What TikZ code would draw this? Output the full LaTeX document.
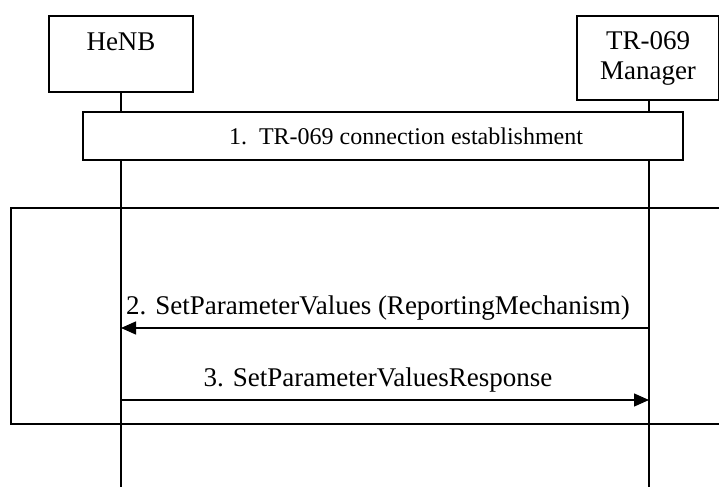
\documentclass[tikz,border=0pt]{standalone}
\usepackage{fontspec}
\setmainfont{Liberation Serif}
\usetikzlibrary{arrows.meta,positioning}

\begin{document}
\begin{tikzpicture}[
  x=0.5pt, y=-0.5pt,
  font=\fontsize{13.5}{15}\selectfont,
  actor/.style={draw,line width=0.75pt,align=center,minimum width=72pt,inner sep=0pt},
  stepbox/.style={draw,line width=0.7pt,fill=white,minimum width=300pt,minimum height=24pt},
  lifeline/.style={line width=0.7pt},
  msg/.style={-{Triangle[length=7.5pt,width=6.5pt]},line width=0.7pt},
  frame/.style={draw,line width=0.7pt},
]
\clip (0,0) rectangle (719,487);
\useasboundingbox (0,0) rectangle (719,487);

%% ---- Actors ----------------------------------------------------------------
\node[actor, minimum height=38pt] (henb) at (121,54) {HeNB\\[-3pt]\mbox{}};
\node[actor, minimum width=71pt, minimum height=42pt] (mgr) at (648,58) {TR-069\\Manager};

%% ---- Lifelines -------------------------------------------------------------
\coordinate (henbend) at (121,487);
\coordinate (mgrend)  at (649,487);
\draw[lifeline] (henb.south) -- (henbend);
\draw[lifeline] (mgr.south -| mgrend) -- (mgrend);

%% ---- Step 1 ----------------------------------------------------------------
\node[stepbox, label={[xshift=11.5pt,font=\fontsize{12}{14}\selectfont]center:1.\ \ TR-069 connection establishment}] (conn) at (383,136) {};

%% ---- Frame round steps 2 and 3 ---------------------------------------------
\coordinate (frametl) at (11,208);
\coordinate (framebr) at (730,424);
\draw[frame] (frametl) rectangle (framebr);

%% ---- Messages --------------------------------------------------------------
\coordinate (setmgr)  at (649,328);
\coordinate (sethenb) at (121,328);
\coordinate (resphenb) at (121,400);
\coordinate (respmgr)  at (649,400);
\draw[msg] (setmgr) -- node[above,xshift=-3.5pt]{2. SetParameterValues (ReportingMechanism)} (sethenb);
\draw[msg] (resphenb) -- node[above,xshift=-3.5pt]{3. SetParameterValuesResponse} (respmgr);

\end{tikzpicture}
\end{document}
